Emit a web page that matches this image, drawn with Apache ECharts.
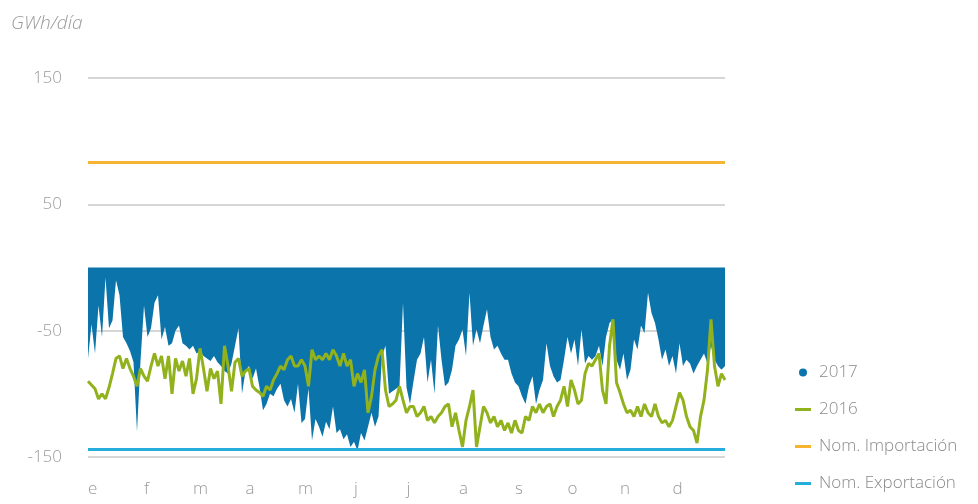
<!DOCTYPE html>
<html>
<head>
<meta charset="utf-8">
<script src="https://cdn.jsdelivr.net/npm/echarts@6/dist/echarts.min.js"></script>
<style>
  html, body { margin: 0; padding: 0; background: #fff; }
  #chart { width: 978px; height: 504px; }
</style>
</head>
<body>
<div id="chart"></div>
<script>
// muestras cada 2 días (día del año 0..364)
const days = []
for (let d = 0; d <= 364; d += 2) days.push(d)

const monthLabels = ["e", "f", "m", "a", "m", "j", "j", "a", "s", "o", "n", "d"]
const monthStarts = [0, 31, 59, 90, 120, 151, 181, 212, 243, 273, 304, 334]
const yTicks = [-150, -50, 50, 150]

const nomImportacion = 83
const nomExportacion = -144

const serie2017 = [
  -72, -45, -68, -30, -55, -8, -48, -42, -10, -22, -55, -60, -66, -75, -130, -74,
  -30, -55, -48, -28, -22, -57, -47, -62, -60, -50, -46, -60, -62, -65, -62, -68,
  -66, -70, -72, -74, -70, -75, -78, -82, -84, -76, -62, -48, -100, -82, -78,
  -88, -80, -95, -113, -108, -100, -102, -96, -92, -105, -110, -104, -115, -92, -123, -120,
  -96, -137, -120, -126, -134, -122, -128, -110, -131, -128, -136, -132, -142, -138, -145, -131,
  -137, -126, -115, -126, -118, -70, -62, -100, -98, -96, -94, -28, -95, -108,
  -90, -73, -68, -55, -91, -73, -100, -46, -73, -94, -91, -81, -62, -57, -49, -70,
  -20, -62, -49, -60, -46, -33, -55, -65, -62, -68, -73, -73, -84, -91, -94, -102,
  -108, -94, -86, -108, -97, -89, -60, -78, -86, -91, -89, -73, -55,
  -68, -57, -78, -49, -76, -70, -73, -70, -62, -78, -55, -44, -41, -73, -81, -68,
  -89, -81, -57, -65, -46, -52, -20, -36, -44, -57, -73, -65, -78, -70, -84, -60,
  -78, -73, -76, -84, -78, -73, -68, -76, -62, -73, -78, -81, -78
]

const serie2016 = [
  -90, -93, -96, -104, -100, -104, -95, -84, -72, -70, -80, -72, -80, -86, -94, -80,
  -86, -90, -78, -68, -78, -70, -88, -70, -100, -72, -82, -74, -86, -72, -100, -88,
  -64, -80, -98, -80, -88, -82, -108, -62, -78, -98, -75, -72, -86, -82, -80,
  -94, -97, -99, -102, -94, -97, -89, -84, -78, -81, -73, -70, -78, -78, -73, -78,
  -94, -65, -73, -70, -73, -68, -73, -65, -70, -78, -68, -78, -73, -94, -84, -91,
  -81, -115, -102, -81, -70, -65, -97, -110, -108, -105, -94, -105, -115, -110,
  -110, -118, -115, -110, -121, -118, -123, -118, -115, -110, -108, -126, -115, -129, -142, -121,
  -110, -97, -142, -126, -110, -115, -123, -118, -126, -121, -129, -123, -131, -121, -129, -131,
  -118, -121, -110, -115, -108, -115, -110, -108, -118, -110, -105, -94, -110,
  -89, -97, -108, -105, -84, -76, -78, -73, -68, -97, -108, -62, -41, -91, -99, -108,
  -115, -113, -118, -110, -118, -108, -115, -118, -108, -118, -123, -121, -126, -121, -110, -99,
  -105, -118, -126, -129, -139, -118, -105, -81, -41, -78, -94, -84, -89
]

const grey = "#9a9a9a"
const fontFamily = "'Open Sans', 'Noto Sans', sans-serif"
const dashIcon = "path://M0,0h16v3h-16z"

const chart = echarts.init(document.getElementById("chart"))

const option = {
  backgroundColor: "#fff",
  animation: false,
  title: {
    text: "GWh/día",
    left: 6,
    top: 9,
    textStyle: {
      color: grey,
      fontStyle: "italic",
      fontWeight: 300,
      fontSize: 19,
      fontFamily: fontFamily
    }
  },
  legend: {
    orient: "vertical",
    left: 790,
    top: 359,
    itemWidth: 16,
    itemHeight: 8,
    itemGap: 20,
    textStyle: {
      color: "#8a8a8a",
      fontSize: 17,
      fontWeight: 300,
      fontFamily: fontFamily,
      padding: [0, 0, 0, 3]
    },
    data: [
      { name: "2017", icon: "circle" },
      { name: "2016", icon: dashIcon },
      { name: "Nom. Importación", icon: dashIcon },
      { name: "Nom. Exportación", icon: dashIcon }
    ]
  },
  grid: {
    left: 88,
    right: 253,
    top: 78,
    bottom: 47
  },
  xAxis: {
    type: "category",
    data: days,
    boundaryGap: false,
    axisLine: { show: false },
    axisTick: { show: false },
    splitLine: { show: false },
    axisLabel: {
      margin: 24,
      align: "left",
      color: grey,
      fontSize: 17,
      fontWeight: 300,
      fontFamily: fontFamily,
      interval: (idx, val) => {
        const d = Number(val)
        return monthStarts.some(s => d >= s && d - s < 2)
      },
      formatter: val => {
        const d = Number(val)
        const m = monthStarts.findIndex(s => d >= s && d - s < 2)
        return m >= 0 ? monthLabels[m] : ""
      }
    }
  },
  yAxis: {
    type: "value",
    min: yTicks[0],
    max: yTicks[yTicks.length - 1],
    interval: 100,
    axisLine: { show: false },
    axisTick: { show: false },
    axisLabel: {
      margin: 26,
      padding: [6, 0, 0, 0],
      color: grey,
      fontSize: 17,
      fontWeight: 300,
      fontFamily: fontFamily
    },
    splitLine: {
      lineStyle: { color: "#c9c9c9", width: 1.5 }
    }
  },
  series: [
    {
      name: "2017",
      type: "line",
      data: serie2017,
      symbol: "none",
      color: "#0b74aa",
      lineStyle: { width: 0 },
      areaStyle: { color: "#0b74aa", opacity: 1 },
      z: 2
    },
    {
      name: "2016",
      type: "line",
      data: serie2016,
      symbol: "none",
      color: "#91b21c",
      lineStyle: { width: 3, color: "#91b21c" },
      z: 4
    },
    {
      name: "Nom. Importación",
      type: "line",
      data: [],
      symbol: "none",
      color: "#f7b433",
      lineStyle: { width: 3, color: "#f7b433" },
      markLine: {
        silent: true,
        symbol: "none",
        label: { show: false },
        lineStyle: { color: "#f7b433", width: 3, type: "solid" },
        data: [{ yAxis: nomImportacion }]
      },
      z: 3
    },
    {
      name: "Nom. Exportación",
      type: "line",
      data: [],
      symbol: "none",
      color: "#25aedb",
      lineStyle: { width: 3, color: "#25aedb" },
      markLine: {
        silent: true,
        symbol: "none",
        label: { show: false },
        lineStyle: { color: "#25aedb", width: 3, type: "solid" },
        data: [{ yAxis: nomExportacion }]
      },
      z: 3
    }
  ]
}

chart.setOption(option)
window.addEventListener("resize", () => chart.resize())
</script>
</body>
</html>
